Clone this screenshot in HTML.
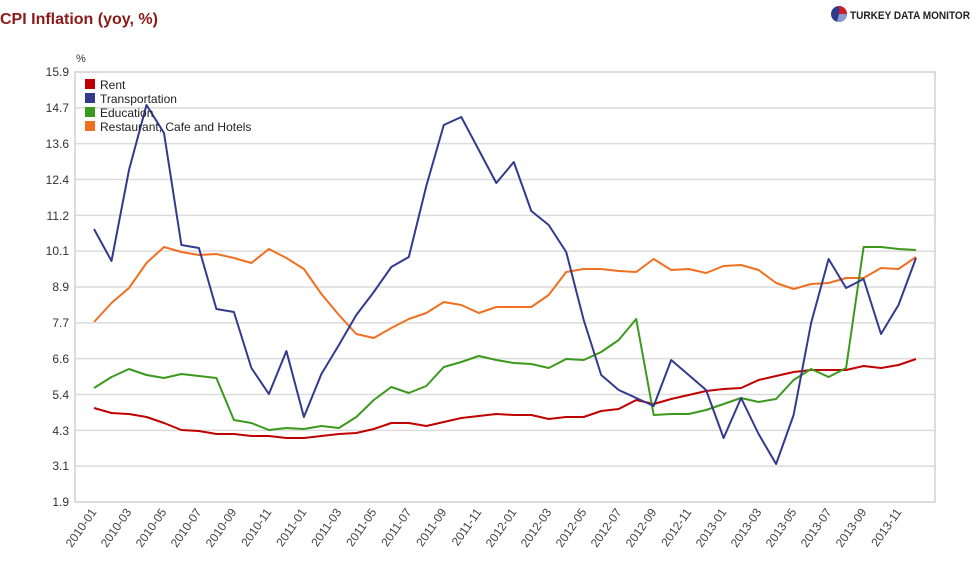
<!DOCTYPE html>
<html><head><meta charset="utf-8"><style>
body{margin:0;background:#fff;width:979px;height:570px;overflow:hidden;font-family:"Liberation Sans",sans-serif}
</style></head><body>
<svg id="s" width="979" height="570" xmlns="http://www.w3.org/2000/svg" font-family="Liberation Sans, sans-serif">
<text x="0" y="24" font-size="16" font-weight="bold" fill="#8b1a1a">CPI Inflation (yoy, %)</text>
<g transform="translate(839,14)">
<circle r="8" fill="#2e3a8c"/><path d="M0,0 L0,-8 A8,8 0 0,1 8,0 Z" fill="#c8202a"/><path d="M0,0 L8,0 A8,8 0 0,1 -2,7.7 Z" fill="#8a9ad0"/>
</g>
<text x="850" y="19" font-size="11" font-weight="bold" fill="#222" textLength="120" lengthAdjust="spacingAndGlyphs">TURKEY DATA MONITOR</text>
<text x="76" y="62" font-size="11" fill="#333">%</text>
<g id="grid" stroke="#dcdcdc" stroke-width="1.5"></g>
<rect x="75" y="72" width="860" height="430" fill="none" stroke="#d0d0d0" stroke-width="1.5"/>
<g id="yl" font-size="12" fill="#333" text-anchor="end">
<text x="69" y="76">15.9</text><text x="69" y="112">14.7</text><text x="69" y="148">13.6</text><text x="69" y="184">12.4</text><text x="69" y="220">11.2</text><text x="69" y="255">10.1</text><text x="69" y="291">8.9</text><text x="69" y="327">7.7</text><text x="69" y="363">6.6</text><text x="69" y="399">5.4</text><text x="69" y="435">4.3</text><text x="69" y="470">3.1</text><text x="69" y="506">1.9</text>
</g>
<g id="xl" font-size="12" fill="#444" text-anchor="end">
<text transform="translate(97,512) rotate(-55)">2010-01</text>
<text transform="translate(132,512) rotate(-55)">2010-03</text>
<text transform="translate(167,512) rotate(-55)">2010-05</text>
<text transform="translate(202,512) rotate(-55)">2010-07</text>
<text transform="translate(237,512) rotate(-55)">2010-09</text>
<text transform="translate(272,512) rotate(-55)">2010-11</text>
<text transform="translate(307,512) rotate(-55)">2011-01</text>
<text transform="translate(342,512) rotate(-55)">2011-03</text>
<text transform="translate(377,512) rotate(-55)">2011-05</text>
<text transform="translate(412,512) rotate(-55)">2011-07</text>
<text transform="translate(447,512) rotate(-55)">2011-09</text>
<text transform="translate(482,512) rotate(-55)">2011-11</text>
<text transform="translate(517,512) rotate(-55)">2012-01</text>
<text transform="translate(552,512) rotate(-55)">2012-03</text>
<text transform="translate(587,512) rotate(-55)">2012-05</text>
<text transform="translate(622,512) rotate(-55)">2012-07</text>
<text transform="translate(657,512) rotate(-55)">2012-09</text>
<text transform="translate(692,512) rotate(-55)">2012-11</text>
<text transform="translate(727,512) rotate(-55)">2013-01</text>
<text transform="translate(762,512) rotate(-55)">2013-03</text>
<text transform="translate(797,512) rotate(-55)">2013-05</text>
<text transform="translate(832,512) rotate(-55)">2013-07</text>
<text transform="translate(867,512) rotate(-55)">2013-09</text>
<text transform="translate(902,512) rotate(-55)">2013-11</text>
</g>
<g id="lines" fill="none" stroke-width="2" stroke-linejoin="round"></g>
<g font-size="12" fill="#222">
<rect x="85" y="79" width="10" height="10" fill="#c00000"/><text x="100" y="89">Rent</text>
<rect x="85" y="93" width="10" height="10" fill="#333a8e"/><text x="100" y="103">Transportation</text>
<rect x="85" y="107" width="10" height="10" fill="#3b9a1c"/><text x="100" y="117">Education</text>
<rect x="85" y="121" width="10" height="10" fill="#f07020"/><text x="100" y="131">Restaurant, Cafe and Hotels</text>
</g>
</svg>
<script>
var NS="http://www.w3.org/2000/svg";
var g=document.getElementById("grid");
for(var i=1;i<12;i++){var y=72+i*430/12;var l=document.createElementNS(NS,"line");l.setAttribute("x1",75);l.setAttribute("x2",935);l.setAttribute("y1",y);l.setAttribute("y2",y);g.appendChild(l);}
var data={
"#c00000":[408,413,414,417,423,430,431,434,434,436,436,438,438,436,434,433,429,423,423,426,422,418,416,414,415,415,419,417,417,411,409,400,404,399,395,391,389,388,380,376,372,370,370,370,366,368,365,359],
"#f07020":[322,303,288,263,247,252,255,254,258,263,249,258,269,294,315,334,338,328,319,313,302,305,313,307,307,307,295,272,269,269,271,272,259,270,269,273,266,265,270,283,289,284,283,278,278,268,269,257],
"#3b9a1c":[388,377,369,375,378,374,376,378,420,423,430,428,429,426,428,417,400,387,393,386,367,362,356,360,363,364,368,359,360,352,340,319,415,414,414,410,404,398,402,399,380,369,377,368,247,247,249,250],
"#333a8e":[229,261,170,105,133,245,248,309,312,368,394,351,417,374,345,315,292,267,257,186,125,117,150,183,162,211,225,252,320,375,390,398,406,360,375,390,438,398,434,464,415,323,259,288,279,334,305,258]};
var L=document.getElementById("lines");
for(var c in data){var p=data[c].map(function(v,i){return (94+i*17.49).toFixed(1)+","+v;}).join(" ");
var pl=document.createElementNS(NS,"polyline");pl.setAttribute("points",p);pl.setAttribute("stroke",c);L.appendChild(pl);}
</script>
</body></html>
